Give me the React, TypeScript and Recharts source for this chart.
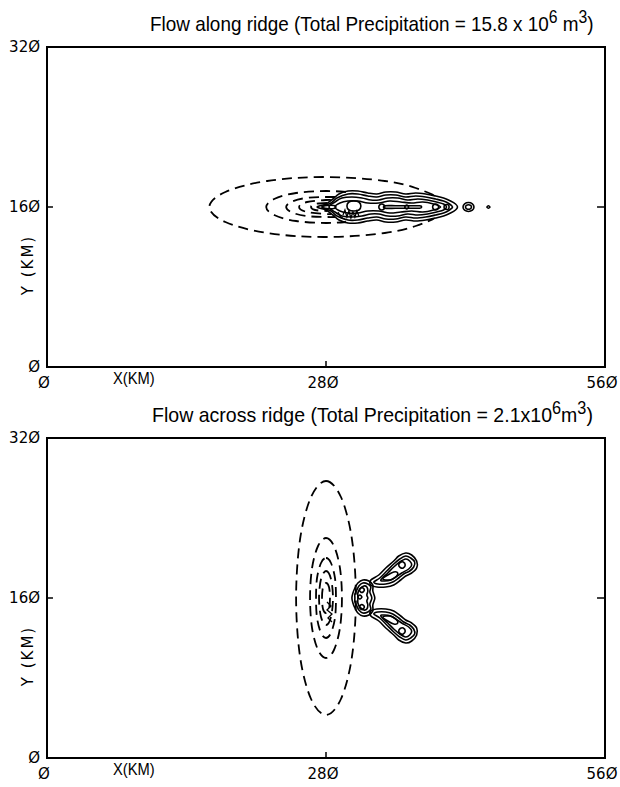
import React from "react";
import { LineChart, Line, XAxis, YAxis, ReferenceArea, ReferenceLine } from "recharts";

type Pt = [number, number];

const X_TICKS = [0, 280, 560];
const Y_TICKS = [0, 160, 320];

// flow along ridge: terrain contours (dashed, only the parts not hidden by rain)
const ALONG_TERRAIN: Pt[][] = [
  [[388, 172], [370, 179], [339, 186], [280, 190], [221, 186], [179, 175], [163, 160], [179, 145], [221, 134], [280, 130], [339, 134], [370, 141], [388, 148]],
  [[300, 175], [280, 176], [250, 174], [228, 168], [220, 160], [228, 152], [250, 146], [280, 144], [300, 145]],
  [[289, 170], [280, 170], [260, 169], [245, 165], [240, 160], [245, 155], [260, 151], [280, 150], [289, 150]],
  [[285, 167], [280, 167], [261, 165], [253, 160], [261, 155], [280, 153], [285, 153]],
  [[281, 164], [269, 163], [265, 160], [269, 157], [281, 156]],
];

// flow along ridge: precipitation contours (closed)
const ALONG_RAIN: Pt[][] = [
  [[271, 160], [280, 163], [287, 168], [293, 173], [302, 176], [312, 176], [322, 174], [331, 173], [340, 175], [350, 175], [360, 173], [370, 174], [380, 173], [390, 171], [398, 169], [405, 166], [410, 163], [412, 160],
   [410, 157], [405, 154], [398, 151], [390, 149], [380, 147], [370, 146], [360, 147], [350, 145], [340, 145], [331, 147], [322, 146], [312, 144], [302, 144], [293, 147], [287, 152], [280, 157]],
  [[276, 160], [285, 164], [291, 169], [302, 173], [312, 173], [322, 171], [331, 170], [340, 172], [350, 172], [360, 170], [370, 171], [380, 170], [390, 168], [398, 166], [404, 163], [407, 160],
   [404, 157], [398, 154], [390, 152], [380, 150], [370, 149], [360, 150], [350, 148], [340, 148], [331, 150], [322, 149], [312, 147], [302, 147], [291, 151], [285, 156]],
  [[283, 160], [289, 165], [296, 169], [306, 170], [316, 169], [325, 167], [333, 167], [342, 169], [352, 169], [362, 167], [372, 168], [382, 167], [391, 165], [398, 163], [401, 160],
   [398, 157], [391, 155], [382, 153], [372, 152], [362, 153], [352, 151], [342, 151], [333, 153], [325, 153], [316, 151], [306, 150], [296, 151], [289, 155]],
  [[289, 160], [294, 164], [302, 166], [312, 166], [322, 164], [333, 164], [344, 166], [355, 165], [366, 164], [377, 165], [388, 163], [395, 160],
   [388, 157], [377, 155], [366, 156], [355, 155], [344, 154], [333, 156], [322, 156], [312, 154], [302, 154], [294, 156]],
  [[315, 161], [313, 165], [308, 166], [303, 165], [301, 161], [303, 157], [308, 156], [313, 157]],
  [[276, 160], [281, 161.5], [288, 161.5], [290, 160], [288, 158.5], [281, 158.5]],
  [[339, 160], [338.1, 162.1], [336, 163], [333.9, 162.1], [333, 160], [333.9, 157.9], [336, 157], [338.1, 157.9]],
  [[339, 161.2], [350, 161.3], [362, 161.3], [374, 161.2], [376, 160], [374, 158.8], [362, 158.7], [350, 158.7], [339, 158.8]],
  [[363, 160], [361, 162], [359, 160], [361, 158]],
  [[393, 160], [392.1, 162.1], [390, 163], [387.9, 162.1], [387, 160], [387.9, 157.9], [390, 157], [392.1, 157.9]],
  [[399, 158], [403, 158], [403, 162], [399, 162]],
  [[428.5, 160], [426.9, 163.2], [423, 164.5], [419.1, 163.2], [417.5, 160], [419.1, 156.8], [423, 155.5], [426.9, 156.8]],
  [[426, 160], [425.1, 161.6], [423, 162.3], [420.9, 161.6], [420, 160], [420.9, 158.4], [423, 157.7], [425.1, 158.4]],
  [[444.5, 160], [443, 161.2], [441.5, 160], [443, 158.8]],
];

const ALONG_RAIN_OPEN: Pt[][] = [
  [[297, 152], [299, 157], [301, 150], [303, 156], [305, 149], [307, 155], [309, 150], [311, 156], [313, 151]],
  [[292, 155], [295, 150], [300, 147]],
];

// flow across ridge: terrain contours (dashed, closed)
const ACROSS_TERRAIN: Pt[][] = [
  [[280, 277], [295, 261], [306, 219], [310, 160], [306, 101], [295, 59], [280, 43], [265, 59], [254, 101], [250, 160], [254, 219], [265, 261]],
  [[280, 220], [288, 212], [294, 190], [296, 160], [294, 130], [288, 108], [280, 100], [272, 108], [266, 130], [264, 160], [266, 190], [272, 212]],
  [[280, 200], [285, 195], [289, 180], [290, 160], [289, 140], [285, 125], [280, 120], [275, 125], [271, 140], [270, 160], [271, 180], [275, 195]],
  [[280, 187], [285, 179], [287, 160], [285, 141], [280, 133], [275, 141], [273, 160], [275, 179]],
  [[280, 175], [283, 171], [284, 160], [283, 149], [280, 145], [277, 149], [276, 160], [277, 171]],
];

// flow across ridge: precipitation contours (closed)
const ACROSS_RAIN: Pt[][] = [
  [[312, 175], [317, 178], [323, 177], [327, 173], [327, 167], [329, 160], [327, 153], [327, 147], [323, 143], [317, 142], [312, 145], [309, 150], [307, 155], [306, 160], [307, 165], [309, 170]],
  [[313, 172], [317, 175], [322, 174], [325, 171], [324, 166], [326, 160], [324, 154], [325, 149], [322, 146], [317, 145], [313, 148], [311, 152], [309, 156], [309, 160], [309, 164], [311, 168]],
  [[314, 169], [318, 172], [321, 171], [322, 167], [321, 163], [322, 160], [321, 157], [322, 153], [321, 149], [318, 148], [314, 151], [312, 155], [312, 160], [312, 165]],
  [[318.5, 168], [316, 170.5], [313.5, 168], [316, 165.5]],
  [[316, 161], [314, 163], [312, 161], [314, 159]],
  [[318.5, 151], [316, 153.5], [313.5, 151], [316, 148.5]],
  [[325, 178], [333, 183], [340, 190], [348, 197], [353, 202], [360, 205], [366, 203], [371, 197], [371, 190], [366, 185], [360, 182], [355, 178], [348, 173], [340, 171], [331, 171], [325, 173]],
  [[328, 176], [334, 180], [341, 187], [348, 194], [354, 199], [360, 202], [365, 200], [369, 196], [368, 191], [364, 187], [358, 184], [353, 180], [347, 176], [340, 174], [332, 174]],
  [[335, 178], [342, 185], [348, 191], [354, 196], [360, 199], [364, 197], [366, 193], [363, 189], [356, 185], [350, 181], [345, 178], [339, 177]],
  [[337, 179], [342, 183], [348, 186], [352, 185], [350, 181], [344, 178]],
  [[359.5, 193], [357.5, 196], [354.5, 195.5], [353, 193], [354.5, 190.5], [357.5, 190]],
  [[325, 142], [333, 137], [340, 130], [348, 123], [353, 118], [360, 115], [366, 117], [371, 123], [371, 130], [366, 135], [360, 138], [355, 142], [348, 147], [340, 149], [331, 149], [325, 147]],
  [[328, 144], [334, 140], [341, 133], [348, 126], [354, 121], [360, 118], [365, 120], [369, 124], [368, 129], [364, 133], [358, 136], [353, 140], [347, 144], [340, 146], [332, 146]],
  [[335, 142], [342, 135], [348, 129], [354, 124], [360, 121], [364, 123], [366, 127], [363, 131], [356, 135], [350, 139], [345, 142], [339, 143]],
  [[337, 141], [342, 137], [348, 134], [352, 135], [350, 139], [344, 142]],
  [[359.5, 127], [357.5, 130], [354.5, 129.5], [353, 127], [354.5, 124.5], [357.5, 124]],
];

const ACROSS_RAIN_OPEN: Pt[][] = [
  [[281, 156], [285, 152], [281, 148], [286, 144], [282, 140], [286, 136]],
];

const AXIS_FONT = "'DejaVu Sans', sans-serif";
const TITLE_FONT = "'Liberation Sans', Arial, sans-serif";

// closed Catmull-Rom curve, used as a d3 curve factory by the Line series
function closedSpline(context: any) {
  let pts: number[][] = [];
  return {
    areaStart() {},
    areaEnd() {},
    lineStart() {
      pts = [];
    },
    point(x: number, y: number) {
      pts.push([+x, +y]);
    },
    lineEnd() {
      const n = pts.length;
      if (n < 3) return;
      context.moveTo(pts[0][0], pts[0][1]);
      for (let i = 0; i < n; i++) {
        const p0 = pts[(i + n - 1) % n];
        const p1 = pts[i];
        const p2 = pts[(i + 1) % n];
        const p3 = pts[(i + 2) % n];
        context.bezierCurveTo(
          p1[0] + (p2[0] - p0[0]) / 6,
          p1[1] + (p2[1] - p0[1]) / 6,
          p2[0] - (p3[0] - p1[0]) / 6,
          p2[1] - (p3[1] - p1[1]) / 6,
          p2[0],
          p2[1]
        );
      }
      context.closePath();
    },
  };
}

const toRows = (ring: Pt[]) => ring.map(([x, y]) => ({ x, y }));
const fmtTick = (v: number) => String(v).replace(/0/g, "Ø");

type PanelProps = {
  top: number;
  title: React.ReactNode;
  titleLeft: number;
  titleScale: number;
  terrainOpen: Pt[][];
  terrainClosed: Pt[][];
  rainClosed: Pt[][];
  rainOpen: Pt[][];
};

function Panel({ top, title, titleLeft, titleScale, terrainOpen, terrainClosed, rainClosed, rainOpen }: PanelProps) {
  const tickStyle = { fill: "#000", fontSize: 15, fontFamily: AXIS_FONT };
  const sup = { fontSize: "0.7em", lineHeight: 0 };
  return (
    <div style={{ position: "absolute", left: 0, top, width: 620, height: 396 }}>
      <div
        style={{
          position: "absolute",
          left: titleLeft,
          top: 4,
          fontFamily: TITLE_FONT,
          fontSize: 21,
          lineHeight: "26px",
          whiteSpace: "nowrap",
          color: "#000",
          transform: `scaleX(${titleScale})`,
          transformOrigin: "left center",
        }}
      >
        {React.Children.map(title, (c) => (typeof c === "string" ? c : React.cloneElement(c as any, { style: sup })))}
      </div>
      <div
        style={{
          position: "absolute",
          left: 113,
          top: 370,
          fontFamily: TITLE_FONT,
          fontSize: 16,
          lineHeight: "18px",
          color: "#000",
          transform: "scaleX(0.92)",
          transformOrigin: "left center",
        }}
      >
        X(KM)
      </div>
      <div
        style={{
          position: "absolute",
          left: 28,
          top: 265,
          transform: "translate(-50%, -50%) rotate(-90deg)",
          fontFamily: AXIS_FONT,
          fontSize: 15,
          letterSpacing: 2,
          whiteSpace: "nowrap",
          color: "#000",
        }}
      >
        Y (KM)
      </div>
      <LineChart width={620} height={396} margin={{ top: 47, right: 15, bottom: 0, left: 0 }}>
        <XAxis
          type="number"
          dataKey="x"
          domain={[0, 560]}
          ticks={X_TICKS}
          interval={0}
          height={29}
          axisLine={false}
          tickLine={false}
          tickSize={6}
          tickMargin={4}
          tick={{ ...tickStyle, dx: -3 }}
          tickFormatter={fmtTick}
          allowDataOverflow
        />
        <YAxis
          type="number"
          dataKey="y"
          domain={[0, 320]}
          ticks={Y_TICKS}
          interval={0}
          width={47}
          axisLine={false}
          tickLine={false}
          tickSize={4}
          tickMargin={3}
          tick={tickStyle}
          tickFormatter={fmtTick}
          allowDataOverflow
        />
        <ReferenceArea x1={0} x2={560} y1={0} y2={320} fill="none" stroke="#000" strokeWidth={2} ifOverflow="visible" />
        <ReferenceLine segment={[{ x: 0, y: 160 }, { x: 6, y: 160 }]} stroke="#000" strokeWidth={1.5} />
        <ReferenceLine segment={[{ x: 552, y: 160 }, { x: 560, y: 160 }]} stroke="#000" strokeWidth={1.5} />
        <ReferenceLine segment={[{ x: 280, y: 0 }, { x: 280, y: 6 }]} stroke="#000" strokeWidth={1.5} />
        {terrainOpen.map((ring, i) => (
          <Line key={`to${i}`} data={toRows(ring)} dataKey="y" type="natural" stroke="#000" strokeWidth={1.8}
            strokeDasharray="10 6" dot={false} activeDot={false} isAnimationActive={false} />
        ))}
        {terrainClosed.map((ring, i) => (
          <Line key={`tc${i}`} data={toRows(ring)} dataKey="y" type={closedSpline as any} stroke="#000" strokeWidth={1.8}
            strokeDasharray="10 6" dot={false} activeDot={false} isAnimationActive={false} />
        ))}
        {rainClosed.map((ring, i) => (
          <Line key={`rc${i}`} data={toRows(ring)} dataKey="y" type={closedSpline as any} stroke="#000" strokeWidth={1.6}
            dot={false} activeDot={false} isAnimationActive={false} />
        ))}
        {rainOpen.map((ring, i) => (
          <Line key={`ro${i}`} data={toRows(ring)} dataKey="y" type="linear" stroke="#000" strokeWidth={1.3}
            dot={false} activeDot={false} isAnimationActive={false} />
        ))}
      </LineChart>
    </div>
  );
}

export default function App() {
  return (
    <div style={{ position: "relative", width: 620, height: 787, overflow: "hidden", background: "#fff" }}>
      <style>{"body{margin:0;}"}</style>
      <Panel
        top={0}
        titleLeft={150}
        titleScale={0.9}
        title={<>Flow along ridge (Total Precipitation = 15.8 x 10<sup>6</sup> m<sup>3</sup>)</>}
        terrainOpen={ALONG_TERRAIN}
        terrainClosed={[]}
        rainClosed={ALONG_RAIN}
        rainOpen={ALONG_RAIN_OPEN}
      />
      <Panel
        top={391}
        titleLeft={152}
        titleScale={0.93}
        title={<>Flow across ridge (Total Precipitation = 2.1x10<sup>6</sup>m<sup>3</sup>)</>}
        terrainOpen={[]}
        terrainClosed={ACROSS_TERRAIN}
        rainClosed={ACROSS_RAIN}
        rainOpen={ACROSS_RAIN_OPEN}
      />
    </div>
  );
}
